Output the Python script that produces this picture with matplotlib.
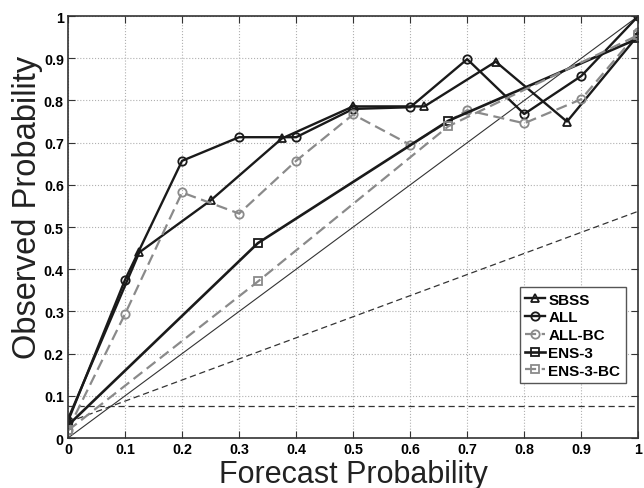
import numpy as np
import matplotlib
matplotlib.use("Agg")
import matplotlib.pyplot as plt

plt.rcParams['font.family'] = ['Liberation Sans', 'DejaVu Sans']

# reliability data
sbss_x = [0, 0.125, 0.25, 0.375, 0.5, 0.625, 0.75, 0.875, 1.0]
sbss_y = [0.045, 0.44, 0.563, 0.71, 0.786, 0.786, 0.892, 0.75, 0.955]

all_x = [0, 0.1, 0.2, 0.3, 0.4, 0.5, 0.6, 0.7, 0.8, 0.9, 1.0]
all_y = [0.04, 0.375, 0.657, 0.713, 0.713, 0.78, 0.784, 0.898, 0.768, 0.858, 1.0]
allbc_y = [0.02, 0.294, 0.582, 0.532, 0.657, 0.767, 0.695, 0.777, 0.746, 0.803, 0.962]

ens_x = [0, 0.333, 0.667, 1.0]
ens_y = [0.03, 0.462, 0.752, 0.947]
ensbc_y = [0.018, 0.371, 0.739, 0.955]

clim = 0.075

gray = '#8a8a8a'

fig = plt.figure(figsize=(6.44, 4.89), dpi=100)
ax = fig.add_axes([0.1056, 0.1022, 0.8855, 0.8628])

# reference lines: perfect reliability, climatology, no-skill
xx = np.array([0.0, 1.0])
ax.plot(xx, xx, color='#333333', lw=0.8)
ax.plot(xx, [clim, clim], color='#333333', lw=0.9, ls=(0, (5, 3)))
ax.plot(xx, (xx + clim) / 2, color='#333333', lw=0.9, ls=(0, (5, 3)))

ms = 6
ax.plot(sbss_x, sbss_y, color='#1a1a1a', lw=1.7, marker='^', ms=ms,
        mfc='none', mew=1.3, label='SBSS')
ax.plot(all_x, all_y, color='#1a1a1a', lw=1.7, marker='o', ms=ms,
        mfc='none', mew=1.3, label='ALL')
ax.plot(all_x, allbc_y, color=gray, lw=1.6, ls=(0, (5, 2.5)), marker='o',
        ms=ms, mfc='none', mew=1.3, label='ALL-BC')
ax.plot(ens_x, ens_y, color='#1a1a1a', lw=1.9, marker='s', ms=ms,
        mfc='none', mew=1.3, label='ENS-3')
ax.plot(ens_x, ensbc_y, color=gray, lw=1.6, ls=(0, (5, 2.5)), marker='s',
        ms=ms, mfc='none', mew=1.3, label='ENS-3-BC')

ax.set_xlim(0, 1)
ax.set_ylim(0, 1)
ticks = np.round(np.arange(0, 1.01, 0.1), 1)
labels = ['0'] + ['%.1f' % t for t in ticks[1:-1]] + ['1']
ax.set_xticks(ticks)
ax.set_xticklabels(labels)
ax.set_yticks(ticks)
ax.set_yticklabels(labels)
ax.tick_params(direction='in', top=True, right=True, length=5,
               labelsize=10.3, pad=3, color='#333333')
for lab in ax.get_xticklabels() + ax.get_yticklabels():
    lab.set_fontweight('bold')

ax.grid(True, ls=':', color='#b0b0b0', lw=0.8)
for s in ax.spines.values():
    s.set_linewidth(1.2)
    s.set_color('#333333')

ax.set_xlabel('Forecast Probability', fontsize=22, color='#222222')
ax.xaxis.set_label_coords(0.5, -0.05)
ax.set_ylabel('Observed Probability', fontsize=23.5, color='#222222')
ax.yaxis.set_label_coords(-0.044, 0.55)

leg = ax.legend(loc='lower right', bbox_to_anchor=(0.978, 0.13),
                borderaxespad=0, fancybox=False, edgecolor='#555555',
                framealpha=1, handlelength=1.3, handletextpad=0.2,
                labelspacing=0.25, borderpad=0.35,
                prop={'weight': 'bold', 'size': 11})
leg.get_frame().set_linewidth(1.0)

fig.savefig('out.png', dpi=100)
